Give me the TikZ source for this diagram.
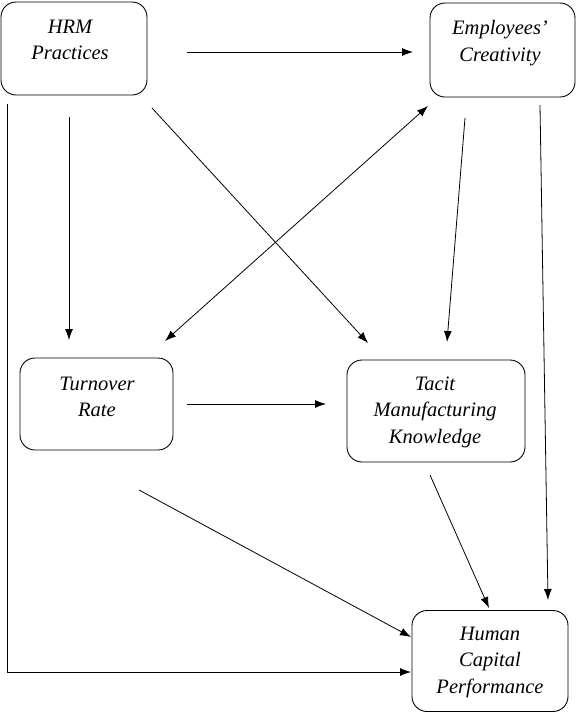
\documentclass[tikz,border=0pt]{standalone}
\usepackage{fontspec}
\setmainfont{Liberation Serif}
\usetikzlibrary{arrows.meta}
\begin{document}
\begin{tikzpicture}[x=1pt,y=-1pt,
  box/.style={draw, line width=0.9pt, rounded corners=15pt, inner sep=0pt},
  lbl/.style={align=center, inner sep=0pt, font=\fontsize{20.5}{26.5}\selectfont\itshape},
  arr/.style={line width=0.8pt, -{Latex[length=11pt,width=8pt]}},
  darr/.style={line width=0.8pt, {Latex[length=11pt,width=8pt]}-{Latex[length=11pt,width=8pt]}}]
\useasboundingbox (0,0) rectangle (576,713);
% boxes
\node[box, minimum width=146pt, minimum height=93pt] (hrm) at (74,48.5) {};
\node[box, minimum width=145pt, minimum height=94pt] (emp) at (502.5,50) {};
\node[box, minimum width=153pt, minimum height=92pt] (turn) at (96.5,404) {};
\node[box, minimum width=178pt, minimum height=102pt] (tacit) at (436,411) {};
\node[box, minimum width=156pt, minimum height=101pt] (human) at (490,661) {};
% labels
\node[lbl] (hrmt) at (70,40) {HRM\\Practices};
\node[lbl] (empt) at (500,43) {Employees'\\Creativity};
\node[lbl] (turnt) at (97,397) {Turnover\\Rate};
\node[lbl] (tacitt) at (435,412) {Tacit\\Manufacturing\\Knowledge};
\node[lbl] (humant) at (490,662) {Human\\Capital\\Performance};
% connector end points
\coordinate (a1) at (187,52);   \coordinate (a2) at (413,52);
\coordinate (b1) at (69,117);   \coordinate (b2) at (69,340);
\coordinate (c1) at (152,108);  \coordinate (c2) at (368,343);
\coordinate (d1) at (428,106);  \coordinate (d2) at (165,341);
\coordinate (e1) at (465,118);  \coordinate (e2) at (447,342);
\coordinate (f1) at (540,105);  \coordinate (f2) at (548,600);
\coordinate (g1) at (187,404);  \coordinate (g2) at (326,404);
\coordinate (h1) at (430,475);  \coordinate (h2) at (489,608);
\coordinate (i1) at (139,490);  \coordinate (i2) at (411,637);
\coordinate (j1) at (7,104);    \coordinate (j2) at (7,672);   \coordinate (j3) at (411,672);
% connectors
\draw[arr] (a1) -- (a2);
\draw[arr] (b1) -- (b2);
\draw[arr] (c1) -- (c2);
\draw[darr] (d1) -- (d2);
\draw[arr] (e1) -- (e2);
\draw[arr] (f1) -- (f2);
\draw[arr] (g1) -- (g2);
\draw[arr] (h1) -- (h2);
\draw[arr] (i1) -- (i2);
\draw[arr] (j1) -- (j2) -- (j3);
\end{tikzpicture}
\end{document}
